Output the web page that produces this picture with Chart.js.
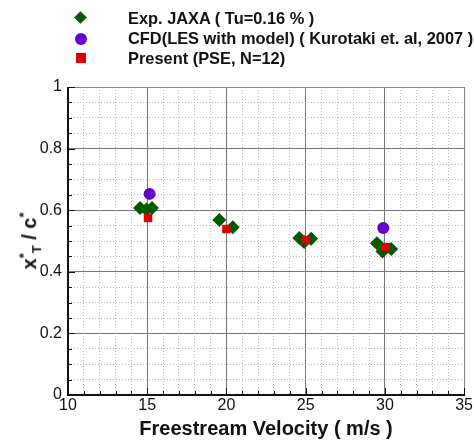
<!DOCTYPE html>
<html>
<head>
<meta charset="utf-8">
<script src="https://cdn.jsdelivr.net/npm/chart.js@4/dist/chart.umd.min.js"></script>
<style>
    body { margin: 0; background: #fff; font-family: "Liberation Sans", Arial, sans-serif; }
    #wrap { position: relative; width: 474px; height: 444px; }
    #legend { position: absolute; left: 0; top: 0; width: 474px; }
    .leg-row { position: absolute; left: 128px; font-size: 16.4px; font-weight: bold; color: #111; white-space: nowrap; line-height: 20px; }
    .mk { position: absolute; }
    .mk.diamond { width: 9px; height: 9px; background: #005a00; transform: rotate(45deg); }
    .mk.circle { width: 12px; height: 12px; border-radius: 50%; background: #6600cc; }
    .mk.square { width: 10px; height: 10px; background: #dd0000; }
    #ytitle { position: absolute; left: 30px; top: 241px; transform: translate(-50%, -50%) rotate(-90deg);
              font-size: 20px; font-weight: bold; white-space: nowrap; color: #111; }
    #ytitle sub, #ytitle sup { font-size: 13px; }
</style>
</head>
<body>
<div id="wrap">
    <canvas id="chart" width="474" height="444"></canvas>
    <div id="legend">
        <span class="mk diamond" style="left:76px; top:13px"></span>
        <div class="leg-row" style="top:8px">Exp. JAXA ( Tu=0.16 % )</div>
        <span class="mk circle" style="left:75px; top:33px"></span>
        <div class="leg-row" style="top:28px">CFD(LES with model) ( Kurotaki et. al, 2007 )</div>
        <span class="mk square" style="left:76px; top:53px"></span>
        <div class="leg-row" style="top:48px">Present (PSE, N=12)</div>
    </div>
    <div id="ytitle">x<sup>*</sup><sub>T</sub> / c<sup>*</sup></div>
</div>
<script>
// transition location vs freestream velocity
const jaxaSpeed = [14.55, 14.95, 15.3, 19.55, 20.4, 24.6, 24.9, 25.35, 29.5, 29.85, 30.4];
const jaxaRatio = [0.607, 0.602, 0.607, 0.568, 0.545, 0.51, 0.497, 0.507, 0.493, 0.466, 0.474];
const cfdSpeed = [15.15, 29.9];
const cfdRatio = [0.653, 0.542];
const pseSpeed = [15.05, 20.0, 25.0, 30.05];
const pseRatio = [0.575, 0.539, 0.503, 0.48];

const xTicks = [10, 15, 20, 25, 30, 35];
const yTicks = [0, 0.2, 0.4, 0.6, 0.8, 1];

const toPoints = (xs, ys) => xs.map((v, i) => ({ x: v, y: ys[i] }));
const isMajorX = v => Math.abs(v % 5) < 1e-6;
const isMajorY = v => Math.abs(Math.round(v * 5) - v * 5) < 1e-6;

// box: black axes on left/bottom with inward ticks, grey on top/right
const framePlugin = {
    id: 'frame',
    afterDraw(chart) {
        const { ctx, chartArea: a, scales: { x, y } } = chart;
        ctx.save();
        ctx.strokeStyle = '#888';
        ctx.lineWidth = 1;
        ctx.beginPath();
        ctx.moveTo(a.left, a.top + 0.5); ctx.lineTo(a.right + 0.5, a.top + 0.5);
        ctx.lineTo(a.right + 0.5, a.bottom);
        ctx.stroke();

        ctx.strokeStyle = '#111';
        ctx.beginPath();
        for (let v = 10; v <= 35; v++) {
            const px = Math.round(x.getPixelForValue(v)) + 0.5;
            const len = isMajorX(v) ? 7 : 4;
            ctx.moveTo(px, a.bottom); ctx.lineTo(px, a.bottom - len);
        }
        for (let i = 0; i <= 20; i++) {
            const py = Math.round(y.getPixelForValue(i * 0.05)) + 0.5;
            const len = i % 4 === 0 ? 7 : 4;
            ctx.moveTo(a.left, py); ctx.lineTo(a.left + len, py);
        }
        ctx.stroke();

        ctx.lineWidth = 2;
        ctx.beginPath();
        ctx.moveTo(a.left, a.top); ctx.lineTo(a.left, a.bottom);
        ctx.lineTo(a.right + 1, a.bottom);
        ctx.stroke();
        ctx.restore();
    }
};

new Chart(document.getElementById('chart'), {
    type: 'scatter',
    data: {
        datasets: [
            {
                label: 'Exp. JAXA ( Tu=0.16 % )',
                data: toPoints(jaxaSpeed, jaxaRatio),
                pointStyle: 'rectRot', pointRadius: 7,
                backgroundColor: '#005a00', borderColor: '#005a00', borderWidth: 0,
                order: 2
            },
            {
                label: 'CFD(LES with model) ( Kurotaki et. al, 2007 )',
                data: toPoints(cfdSpeed, cfdRatio),
                pointStyle: 'circle', pointRadius: 6,
                backgroundColor: '#6600cc', borderColor: '#6600cc', borderWidth: 0,
                order: 1
            },
            {
                label: 'Present (PSE, N=12)',
                data: toPoints(pseSpeed, pseRatio),
                pointStyle: 'rect', pointRadius: 6,
                backgroundColor: '#dd0000', borderColor: '#dd0000', borderWidth: 0,
                order: 0
            }
        ]
    },
    options: {
        responsive: false,
        animation: false,
        layout: { padding: { left: 18, right: 9, top: 87, bottom: 0 } },
        plugins: { legend: { display: false }, tooltip: { enabled: false } },
        scales: {
            x: {
                type: 'linear', min: 10, max: 35,
                afterFit(scale) { scale.height = 49; },
                afterBuildTicks(scale) {
                    scale.ticks = [];
                    for (let v = 10; v <= 35; v++) scale.ticks.push({ value: v });
                },
                ticks: {
                    padding: 1, maxRotation: 0, autoSkip: false,
                    color: '#111', font: { family: 'Liberation Sans', size: 16 },
                    callback: v => xTicks.includes(v) ? v : ''
                },
                grid: {
                    drawTicks: false,
                    color: c => isMajorX(c.tick.value) ? '#777' : '#bbb'
                },
                border: { display: false, dash: c => isMajorX(c.tick.value) ? [] : [1, 2] },
                title: {
                    display: true, text: 'Freestream Velocity ( m/s )',
                    color: '#111', font: { family: 'Liberation Sans', size: 20, weight: 'bold' },
                    padding: { top: 0, bottom: 3 }
                }
            },
            y: {
                type: 'linear', min: 0, max: 1,
                afterFit(scale) { scale.width = 50; },
                afterBuildTicks(scale) {
                    scale.ticks = [];
                    for (let i = 0; i <= 20; i++) scale.ticks.push({ value: i * 0.05 });
                },
                ticks: {
                    padding: 6, autoSkip: false,
                    color: '#111', font: { family: 'Liberation Sans', size: 16 },
                    callback: v => isMajorY(v) ? String(+v.toFixed(1)) : ''
                },
                grid: {
                    drawTicks: false,
                    color: c => isMajorY(c.tick.value) ? '#777' : '#bbb'
                },
                border: { display: false, dash: c => isMajorY(c.tick.value) ? [] : [1, 2] }
            }
        }
    },
    plugins: [framePlugin]
});
</script>
</body>
</html>
